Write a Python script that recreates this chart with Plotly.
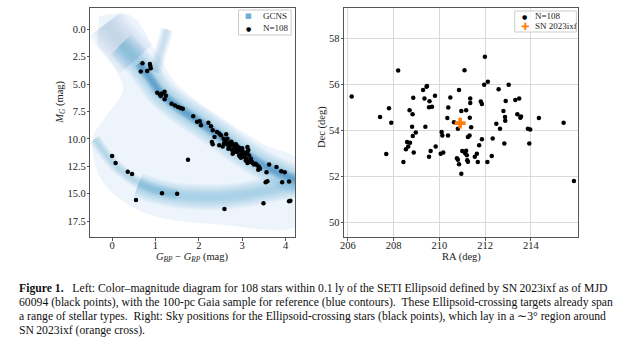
import plotly.graph_objects as go

# ---------------- data: left panel (colour-magnitude diagram) ----------------
cmd_color = [0.70, 0.87, 0.89, 0.66, 0.81, 0.88,
             1.04, 1.10, 1.15, 1.21, 1.12, 1.21, 1.24,
             1.37, 1.45, 1.52, 1.58, 1.63,
             1.87, 2.02,
             1.96, 2.05, 2.22, 2.28, 2.32, 2.42, 2.47, 2.36, 2.30, 2.32,
             2.51, 2.57, 2.63, 2.66, 2.60, 2.65, 2.70, 2.74, 2.55, 2.47,
             2.68, 2.76, 2.82, 2.855, 2.89, 2.93, 2.97, 3.01, 2.89, 2.82,
             2.78, 2.93, 2.97, 3.05, 3.08, 3.12, 3.12, 3.16, 3.20, 3.08,
             3.16, 3.24, 3.27, 3.31, 3.35, 3.39, 3.37, 3.41, 3.62, 3.79,
             3.90, 3.98, 3.56, 3.54, 3.58, 3.92, 4.08, 1.75, 2.59, 3.49,
             4.08, 4.11,
             0.00, 0.08, 0.36, 0.46, 0.55, 1.15, 1.50,
             2.62, 2.70, 2.78, 2.86, 2.92, 2.98, 3.03, 3.10, 3.14, 2.84,
             2.75, 3.00, 3.06, 3.18, 3.22, 2.68, 2.58, 2.95, 3.12]
cmd_mag = [3.09, 3.15, 3.55, 3.85, 3.79, 3.35,
           5.78, 5.95, 5.85, 5.70, 6.08, 6.38, 6.05,
           6.78, 6.95, 7.08, 7.18, 7.24,
           7.92, 8.38,
           8.44, 8.75, 8.53, 8.84, 9.21, 9.36, 9.51, 9.82, 10.28, 10.49,
           9.67, 9.97, 9.57, 9.97, 10.28, 10.49, 10.37, 10.58, 10.68, 10.58,
           10.89, 10.98, 10.74, 10.49, 10.68, 10.80, 10.98, 11.20, 11.20, 11.20,
           11.35, 11.50, 11.72, 11.65, 11.35, 10.74, 11.20, 11.50, 11.81, 11.96,
           12.11, 12.20, 12.33, 12.27, 12.42, 12.57, 12.82, 12.72, 12.33, 12.57,
           12.94, 13.03, 13.03, 13.95, 13.86, 13.95, 13.88, 11.90, 16.40, 15.87,
           15.69, 15.63,
           11.56, 12.20, 13.00, 13.20, 15.57, 14.95, 15.00,
           10.10, 10.70, 10.45, 10.90, 11.05, 11.40, 11.55, 11.80, 11.00, 11.05,
           10.25, 10.85, 11.25, 12.00, 12.05, 10.55, 10.42, 11.60, 12.20]

# GCNS reference population: ridge lines of its sequences (colour, M_G)
ms_color = [0.20, 0.45, 0.70, 0.90, 1.10, 1.50, 2.00, 2.50, 3.00, 3.50, 4.00, 4.30]
ms_mag = [1.40, 2.40, 3.50, 4.60, 5.70, 7.05, 8.40, 9.80, 11.20, 12.45, 13.35, 13.85]
core_color = [0.62, 0.90, 1.10, 1.50, 2.00, 2.50, 3.00, 3.50, 4.00, 4.30]
core_mag = [3.10, 4.60, 5.70, 7.05, 8.40, 9.80, 11.20, 12.45, 13.35, 13.85]
ums_color = [-0.15, 0.05, 0.30, 0.55]
ums_mag = [-0.50, 0.50, 1.60, 2.70]
gb_color = [0.98, 1.05, 1.12, 1.20, 1.26]
gb_mag = [3.90, 3.00, 2.00, 1.00, 0.00]
wd_color = [-0.40, -0.15, 0.15, 0.55, 1.00, 1.50]
wd_mag = [10.00, 11.40, 12.70, 13.85, 14.60, 15.05]
wdl_color = [0.60, 1.00, 1.50, 2.00, 2.50, 3.00, 3.50, 4.00, 4.30]
wdl_mag = [14.20, 14.75, 15.15, 15.30, 15.30, 15.10, 14.75, 14.35, 14.10]
haze_color = [-0.30, 0.45, 1.00, 1.50, 2.50, 3.50, 4.30, 4.30, 2.50, 0.80, -0.20, -0.45, -0.15, 0.25, 0.05, -0.35]
haze_mag = [-1.20, -1.20, 2.00, 5.00, 8.00, 10.50, 12.00, 17.80, 17.80, 16.80, 14.00, 10.00, 8.00, 5.50, 3.50, 1.50]

# ---------------- data: right panel (sky positions) ----------------
ra = [206.17, 207.41, 207.80, 207.90, 207.68, 208.20, 208.43, 208.70, 208.86, 208.83,
      208.81, 208.84, 208.97, 208.59, 208.72, 208.54, 208.64, 208.88, 209.29, 209.46,
      209.44, 209.35, 209.57, 209.55, 209.68, 209.81, 209.39, 209.62, 209.55, 209.84,
      210.06, 210.17, 210.10, 210.13, 210.38, 210.35, 210.39, 210.48, 210.64, 210.81,
      210.86, 210.96, 211.10, 211.17, 211.35, 211.35, 211.33, 211.39, 211.32, 211.25,
      211.00, 211.13, 211.17, 211.20, 211.22, 211.25, 210.77, 210.81, 210.86, 210.96,
      211.55, 211.64, 211.68, 211.74, 211.86, 211.81, 211.86, 211.96, 211.99, 212.12,
      212.10, 212.29, 212.33, 212.49, 212.59, 212.65, 213.03, 212.80, 212.87, 212.88,
      212.84, 212.90, 213.32, 213.49, 213.41, 213.57, 213.54, 213.87, 213.97, 213.93,
      214.35, 215.43, 215.88]
dec = [55.47, 54.58, 54.96, 54.33, 52.97, 56.60, 52.62, 54.87, 55.42, 54.70,
       54.15, 53.75, 53.90, 53.49, 53.46, 53.17, 53.29, 53.03, 55.75, 55.93,
       55.90, 55.38, 55.27, 55.00, 55.03, 55.51, 54.15, 53.10, 52.85, 53.29,
       52.98, 53.03, 53.93, 53.77, 53.77, 54.54, 54.99, 55.43, 54.35, 54.07,
       55.75, 54.84, 56.62, 54.87, 55.38, 55.19, 54.55, 54.13, 53.77, 53.71,
       53.10, 53.00, 53.11, 52.91, 52.69, 52.63, 52.78, 52.72, 52.52, 52.11,
       52.85, 52.98, 52.62, 53.35, 53.61, 55.25, 55.15, 55.98, 57.20, 56.12,
       52.62, 52.88, 53.64, 54.29, 55.79, 54.07, 55.98, 54.84, 54.58, 54.41,
       53.42, 55.28, 55.32, 55.38, 54.70, 54.60, 54.55, 54.07, 54.03, 53.42,
       54.54, 54.33, 51.79]
sn_ra = [210.91]
sn_dec = [54.31]

left_xticks = [0, 1, 2, 3, 4]
left_yticks = [0.0, 2.5, 5.0, 7.5, 10.0, 12.5, 15.0, 17.5]
right_xticks = [206, 208, 210, 212, 214]
right_yticks = [50, 52, 54, 56, 58]

caption_lines = [
    "<b>Figure 1.</b>   Left: Color\u2013magnitude diagram for 108 stars within 0.1\u2009ly of the SETI Ellipsoid defined by SN\u20092023ixf as of MJD",
    "60094 (black points), with the 100-pc Gaia sample for reference (blue contours).  These Ellipsoid-crossing targets already span",
    "a range of stellar types.  Right: Sky positions for the Ellipsoid-crossing stars (black points), which lay in a \u223c3\u00b0 region around",
    "SN\u20092023ixf (orange cross).",
]

SERIF = "Liberation Serif"
W, H = 630, 345

fig = go.Figure()

# GCNS haze (sparse field population)
fig.add_trace(go.Scatter(x=haze_color, y=haze_mag, mode="lines", fill="toself",
                         line=dict(width=0, shape="spline"), fillcolor="rgba(222,234,247,0.5)",
                         hoverinfo="skip", showlegend=False, xaxis="x", yaxis="y"))

def band(xs, ys, wmax, wmin, step, rgb, alpha):
    w = wmax
    while w >= wmin:
        fig.add_trace(go.Scatter(x=xs, y=ys, mode="lines",
                                 line=dict(width=w, color="rgba(%d,%d,%d,%.3f)" % (rgb + (alpha,)),
                                           shape="spline"),
                                 hoverinfo="skip", showlegend=False, xaxis="x", yaxis="y"))
        w -= step

LIGHT = (158, 202, 225)
MID = (107, 174, 214)
DARK = (49, 125, 189)
band(ums_color, ums_mag, 44, 6, 2, LIGHT, 0.035)
band(ms_color, ms_mag, 30, 4, 2, MID, 0.05)
band(core_color, core_mag, 11, 2, 1.5, DARK, 0.10)
band(gb_color, gb_mag, 13, 3, 2, MID, 0.07)
band(wd_color, wd_mag, 12, 2, 2, MID, 0.09)
band(wdl_color, wdl_mag, 26, 4, 2, MID, 0.05)

fig.add_trace(go.Scatter(x=cmd_color, y=cmd_mag, mode="markers", name="N=108",
                         marker=dict(size=4.5, color="black"), showlegend=False,
                         xaxis="x", yaxis="y"))
fig.add_trace(go.Scatter(x=ra, y=dec, mode="markers", name="N=108",
                         marker=dict(size=4.5, color="black"), showlegend=False,
                         xaxis="x2", yaxis="y2"))
fig.add_trace(go.Scatter(x=sn_ra, y=sn_dec, mode="markers", name="SN 2023ixf",
                         marker=dict(symbol="cross", size=9, color="#ff7f0e"), showlegend=False,
                         xaxis="x2", yaxis="y2"))

axis_common = dict(showline=True, mirror=True, linecolor="#555", linewidth=1,
                   ticks="outside", ticklen=2.5, tickcolor="#555", zeroline=False,
                   tickfont=dict(family=SERIF, size=10.5, color="#222"))

ydom = [1 - 237 / H, 1 - 7.5 / H]
fig.update_layout(
    width=W, height=H, margin=dict(l=0, r=0, t=0, b=0),
    paper_bgcolor="white", plot_bgcolor="white", showlegend=False,
    xaxis=dict(domain=[87 / W, 293 / W], range=[-0.5, 4.22], tickvals=left_xticks,
               showgrid=False, anchor="y", ticklabelstandoff=-4, **axis_common),
    yaxis=dict(domain=ydom, range=[18.95, -2.0], tickvals=left_yticks, tickformat=".1f",
               showgrid=False, anchor="x", ticklabelstandoff=-1, **axis_common),
    xaxis2=dict(domain=[342.3 / W, 577.7 / W], range=[205.84, 216.06], tickvals=right_xticks,
                showgrid=True, gridcolor="#d9d9d9", anchor="y2", ticklabelstandoff=-4,
                **axis_common),
    yaxis2=dict(domain=ydom, range=[49.35, 59.35], tickvals=right_yticks,
                showgrid=True, gridcolor="#d9d9d9", anchor="x2", ticklabelstandoff=-1,
                **axis_common),
)

def px(xp, yp):
    return xp / W, 1 - yp / H

shapes = []
for (x0, y0, x1, y1) in [(236, 10, 289, 35), (514, 11, 576, 32)]:
    a, b = px(x0, y0)
    c, d = px(x1, y1)
    shapes.append(dict(type="rect", xref="paper", yref="paper", x0=a, y0=d, x1=c, y1=b,
                       line=dict(color="#cccccc", width=1), fillcolor="rgba(255,255,255,0.85)"))
fig.update_layout(shapes=shapes)

ann = []
def text(t, xp, yp, size=10.5, angle=0, xanchor="center", color="#222", family=SERIF):
    a, b = px(xp, yp)
    ann.append(dict(text=t, x=a, y=b, xref="paper", yref="paper", showarrow=False,
                    textangle=angle, xanchor=xanchor, yanchor="middle",
                    font=dict(family=family, size=size, color=color)))

# axis titles
text("<i>G</i><sub><i>BP</i></sub> \u2212 <i>G</i><sub><i>RP</i></sub> (mag)", 190, 257)
text("RA (deg)", 460, 257)
text("<i>M</i><sub><i>G</i></sub> (mag)", 56, 102, angle=-90)
text("Dec (deg)", 320, 127, angle=-90)

# legends (keys as glyphs)
text("\u25a0", 246, 16, size=7, color="#6baed6", family="DejaVu Sans")
text("GCNS", 259, 16, size=9, xanchor="left")
text("\u25cf", 246, 28, size=6, color="black", family="DejaVu Sans")
text("N=108", 259, 28, size=9, xanchor="left")
text("\u25cf", 524, 16, size=6, color="black", family="DejaVu Sans")
text("N=108", 532, 16, size=9, xanchor="left")
text("\u271a", 524, 26.5, size=10, color="#ff7f0e", family="DejaVu Sans")
text("SN 2023ixf", 532, 26.5, size=9, xanchor="left")

# caption
for i, line in enumerate(caption_lines):
    text(line, 13, 288 + 14 * i, size=11.7, xanchor="left", color="#111")

fig.update_layout(annotations=ann)
fig.write_html("out.html")
